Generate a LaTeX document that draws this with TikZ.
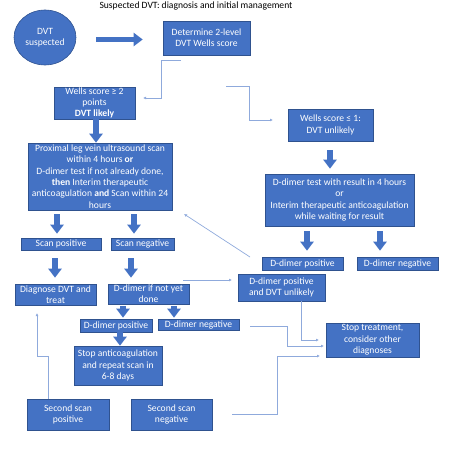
\documentclass[tikz,border=0pt]{standalone}
\usepackage{fontspec}
\setmainfont{Carlito}
\usetikzlibrary{shapes.geometric,arrows.meta,calc}
\definecolor{boxblue}{HTML}{4472C4}
\definecolor{boxedge}{HTML}{2F528F}
\definecolor{linkblue}{HTML}{8FAADC}
\begin{document}
\begin{tikzpicture}[x=1pt,y=-1pt,
  box/.style={rectangle, fill=boxblue, draw=boxedge, line width=0.6pt, text=white,
    font=\fontsize{9.6}{11.3}\selectfont, align=center, inner sep=0pt},
  fat/.style={draw=boxblue, line width=5.5pt, -{Triangle[width=13pt,length=9pt]}},
  link/.style={draw=linkblue, line width=0.7pt, -{Latex[length=3pt,width=3pt]}},
  titletext/.style={font=\fontsize{9.6}{11.3}\selectfont, text=black, inner sep=0pt}
]
\useasboundingbox (0,0) rectangle (473,454);
\node[titletext] (title) at (196,6) {Suspected DVT: diagnosis and initial management};
\node[box, ellipse, minimum width=62, minimum height=55] (dvt) at (45,37.5) {DVT\\suspected};
\node[box, minimum width=87, minimum height=34] (b1) at (206.5,38) {Determine 2-level\\DVT Wells score};
\node[box, minimum width=81, minimum height=32] (wlikely) at (94.5,103) {Wells score ≥ 2\\points\\\textbf{DVT likely}};
\node[box, minimum width=85, minimum height=32] (wunlikely) at (330.5,125) {Wells score ≤ 1:\\DVT unlikely};
\node[box, minimum width=144, minimum height=67] (prox) at (100,176.5) {Proximal leg vein ultrasound scan\\within 4 hours \textbf{or}\\D-dimer test if not already done,\\\textbf{then} Interim therapeutic\\anticoagulation \textbf{and} Scan within 24\\hours};
\node[box, minimum width=149, minimum height=52] (dtest) at (339.5,200) {D-dimer test with result in 4 hours\\or\\Interim therapeutic anticoagulation\\while waiting for result};
\node[box, minimum width=80, minimum height=12] (spos) at (61,244) {Scan positive};
\node[box, minimum width=63, minimum height=12] (sneg) at (142.5,244) {Scan negative};
\node[box, minimum width=81, minimum height=13] (rdpos) at (302.5,263.5) {D-dimer positive};
\node[box, minimum width=81, minimum height=13] (rdneg) at (397.5,263.5) {D-dimer negative};
\node[box, minimum width=81, minimum height=21] (diag) at (55.5,294.5) {Diagnose DVT and\\treat};
\node[box, minimum width=81, minimum height=20] (dnyd) at (148.5,294) {D-dimer if not yet\\done};
\node[box, minimum width=87, minimum height=27] (dpu) at (281.5,287.5) {D-dimer positive\\and DVT unlikely};
\node[box, minimum width=72, minimum height=13] (ldpos) at (116,325.5) {D-dimer positive};
\node[box, minimum width=81, minimum height=11] (ldneg) at (198.5,324.5) {D-dimer negative};
\node[box, minimum width=88, minimum height=39] (stopac) at (118,365.5) {Stop anticoagulation\\and repeat scan in\\6-8 days};
\node[box, minimum width=93, minimum height=34] (stoptr) at (372.5,340) {Stop treatment,\\consider other\\diagnoses};
\node[box, minimum width=82, minimum height=31] (ssp) at (68,414.5) {Second scan\\positive};
\node[box, minimum width=81, minimum height=31] (ssn) at (171.5,414.5) {Second scan\\negative};

% thick arrows
\draw[fat, shorten <=20pt, shorten >=20pt] (dvt.east |- 0,39.5) -- (b1.west |- 0,39.5);
\draw[fat] (wlikely.south -| 96,0) -- (prox.north -| 96,0);
\draw[fat, shorten <=9pt, shorten >=5pt] (wunlikely.south -| 330,0) -- (dtest.north -| 330,0);
\draw[fat, shorten <=5pt, shorten >=6pt] (dtest.south -| 307,0) -- (rdpos.north -| 307,0);
\draw[fat, shorten <=5pt, shorten >=6pt] (dtest.south -| 380,0) -- (rdneg.north -| 380,0);
\draw[fat, shorten <=4pt, shorten >=4pt] (prox.south -| 57,0) -- (spos.north -| 57,0);
\draw[fat, shorten <=4pt, shorten >=4pt] (prox.south -| 134,0) -- (sneg.north -| 134,0);
\draw[fat, shorten <=8pt, shorten >=6pt] (spos.south -| 55,0) -- (diag.north -| 55,0);
\draw[fat, shorten <=8pt, shorten >=6pt] (sneg.south -| 131,0) -- (dnyd.north -| 131,0);
\draw[fat, shorten <=2pt, shorten >=1pt] (dnyd.south -| 123,0) -- (ldpos.north -| 123,0);
\draw[fat, shorten <=2pt, shorten >=1pt] (dnyd.south -| 174,0) -- (ldneg.north -| 174,0);
\draw[fat] (ldpos.south -| 120,0) -- (stopac.north -| 120,0);

% thin connectors
\coordinate (c1s) at (181,60);  \coordinate (c1e) at (143,98);
\coordinate (c2s) at (226,86);  \coordinate (c2e) at (273,120);
\coordinate (c3s) at (250,257); \coordinate (c3e) at (184,214);
\coordinate (c4s) at (183,280); \coordinate (c4e) at (232,280);
\coordinate (c5e) at (37,313);
\coordinate (c6e) at (319,340);
\coordinate (c7s) at (250,326); \coordinate (c7e) at (324,346);
\coordinate (c8s) at (232,414); \coordinate (c8e) at (320,356);
\draw[link] (c1s) -| (161,98) -- (c1e);
\draw[link] (c2s) -| (249,120) -- (c2e);
\draw[link] (c3s) -- (c3e);
\draw[link] (c4s) -- (c4e);
\draw[link] (ssp.north -| 48,0) |- (37,356) -- (c5e);
\draw[link] (dpu.south -| 301,0) |- (c6e);
\draw[link] (c7s) -| (287,346) -- (c7e);
\draw[link] (c8s) -| (277,356) -- (c8e);
\end{tikzpicture}
\end{document}
